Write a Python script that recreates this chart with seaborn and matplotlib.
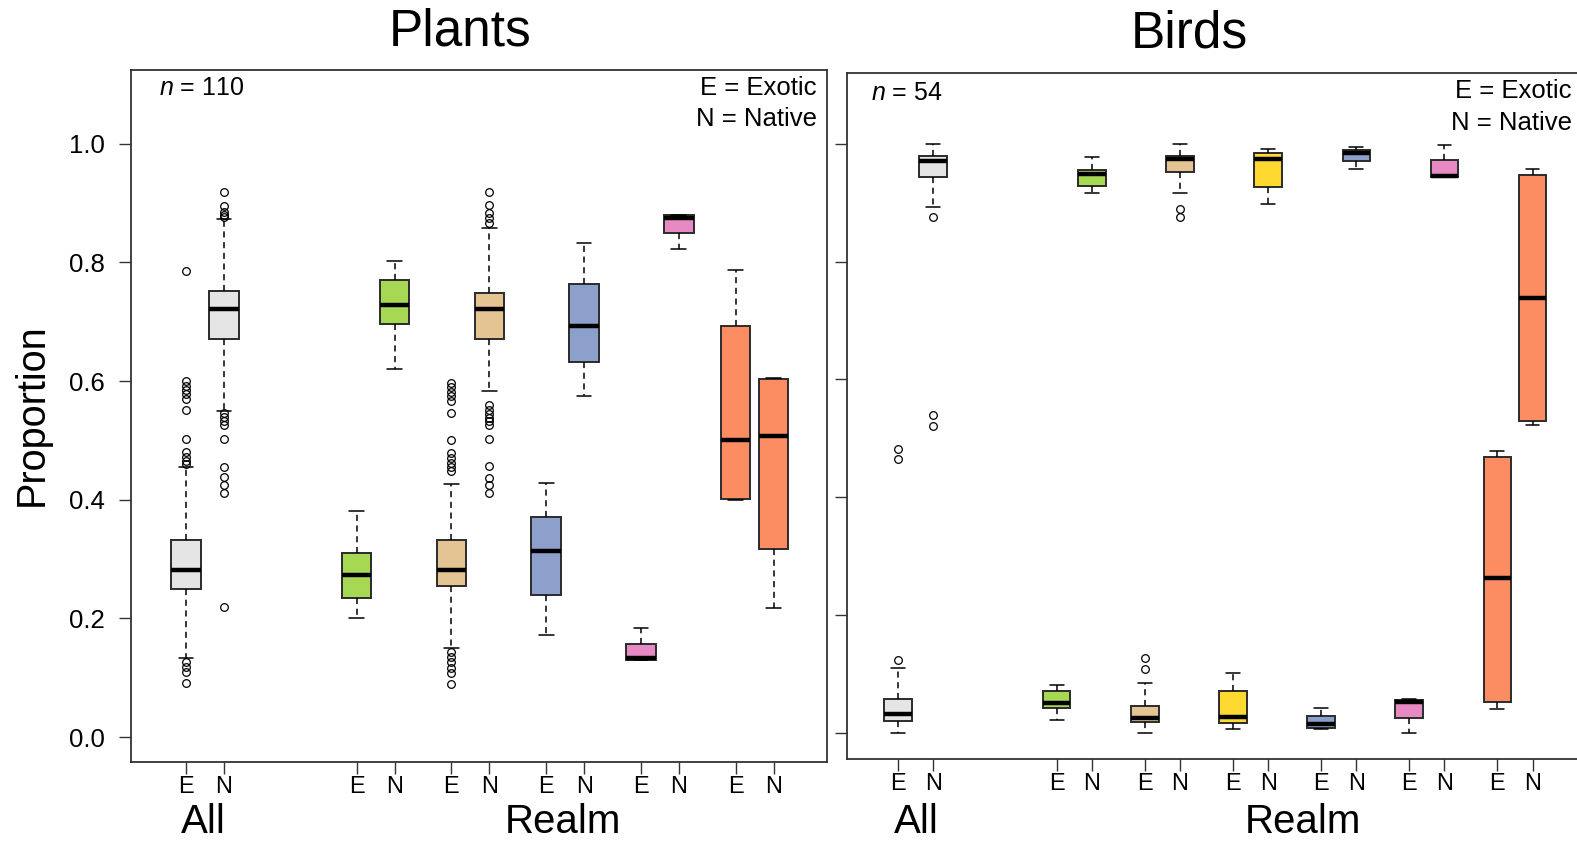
import matplotlib
matplotlib.use("Agg")
import matplotlib.pyplot as plt
import seaborn as sns

# Summary statistics (E, N pairs per group)
# order: All, then the realms
sns.set_style("ticks")
plt.rcParams["font.family"] = ["Liberation Sans", "DejaVu Sans"]
plt.rcParams["mathtext.fontset"] = "custom"
plt.rcParams["mathtext.it"] = "Liberation Sans:italic"
plt.rcParams["mathtext.rm"] = "Liberation Sans"
plt.rcParams["text.color"] = "black"

pal = sns.color_palette("Set2")
grey = "#e5e5e5"
plant_colors = [grey, pal[4], pal[6], pal[2], pal[3], pal[1]]
bird_colors = [grey, pal[4], pal[6], pal[5], pal[2], pal[3], pal[1]]

tick_labels = ["E", "N"]

plants_q1 = [0.250, 0.671, 0.235, 0.697, 0.255, 0.671, 0.240, 0.632, 0.130, 0.849, 0.402, 0.317]
plants_med = [0.282, 0.721, 0.274, 0.729, 0.282, 0.721, 0.313, 0.693, 0.133, 0.875, 0.500, 0.508]
plants_q3 = [0.332, 0.752, 0.310, 0.770, 0.332, 0.748, 0.371, 0.763, 0.157, 0.880, 0.693, 0.603]
plants_lo = [0.134, 0.550, 0.2015, 0.620, 0.150, 0.583, 0.173, 0.575, 0.130, 0.822, 0.399, 0.2185]
plants_hi = [0.455, 0.873, 0.381, 0.802, 0.427, 0.858, 0.429, 0.832, 0.184, 0.880, 0.788, 0.605]
plants_fliers = [
    [0.786, 0.600, 0.592, 0.585, 0.578, 0.570, 0.551, 0.502, 0.480, 0.472, 0.466, 0.460,
     0.127, 0.118, 0.110, 0.091],
    [0.918, 0.895, 0.885, 0.880, 0.877, 0.546, 0.540, 0.533, 0.526, 0.502, 0.456, 0.438,
     0.425, 0.412, 0.219],
    [], [],
    [0.597, 0.590, 0.582, 0.575, 0.566, 0.547, 0.500, 0.479, 0.470, 0.462, 0.455, 0.448,
     0.144, 0.135, 0.126, 0.117, 0.108, 0.090],
    [0.918, 0.897, 0.883, 0.875, 0.867, 0.560, 0.552, 0.545, 0.538, 0.532, 0.526, 0.502,
     0.457, 0.437, 0.425, 0.412],
    [], [], [], [], [], [],
]

birds_q1 = [0.019, 0.943, 0.0425, 0.928, 0.018, 0.953, 0.016, 0.926, 0.0075, 0.970, 0.0255, 0.943, 0.052, 0.530]
birds_med = [0.031, 0.971, 0.050, 0.948, 0.0255, 0.975, 0.027, 0.975, 0.015, 0.985, 0.052, 0.945, 0.262, 0.739]
birds_q3 = [0.057, 0.980, 0.071, 0.955, 0.046, 0.979, 0.071, 0.984, 0.028, 0.989, 0.0555, 0.972, 0.468, 0.947]
birds_lo = [0.000, 0.893, 0.021, 0.917, 0.000, 0.917, 0.006, 0.897, 0.007, 0.957, 0.000, 0.943, 0.040, 0.522]
birds_hi = [0.109, 0.999, 0.0815, 0.977, 0.084, 0.999, 0.101, 0.991, 0.0425, 0.994, 0.058, 0.998, 0.478, 0.957]
birds_fliers = [
    [0.123, 0.464, 0.481],
    [0.876, 0.539, 0.520],
    [], [],
    [0.126, 0.108],
    [0.889, 0.875],
    [], [], [], [], [], [], [], [],
]


def positions(n_realms):
    pos = [1, 2]
    for i in range(n_realms):
        pos += [5.5 + 2.5 * i, 6.5 + 2.5 * i]
    return pos


def draw_panel(ax, q1, med, q3, lo, hi, fliers, colors):
    stats = []
    for i in range(len(med)):
        stats.append(dict(q1=q1[i], med=med[i], q3=q3[i], whislo=lo[i],
                          whishi=hi[i], fliers=fliers[i]))
    pos = positions(len(colors) - 1)
    res = ax.bxp(stats, positions=pos, widths=0.78, capwidths=0.39,
                 patch_artist=True, showfliers=True,
                 boxprops=dict(edgecolor="#2b2b2b", linewidth=1.4),
                 whiskerprops=dict(color="black", linewidth=1.1, linestyle=(0, (4, 3))),
                 capprops=dict(color="black", linewidth=1.1),
                 medianprops=dict(color="black", linewidth=3.2, solid_capstyle="butt"),
                 flierprops=dict(marker="o", markerfacecolor="none",
                                 markeredgecolor="black", markersize=5.5,
                                 markeredgewidth=0.9))
    for i, box in enumerate(res["boxes"]):
        box.set_facecolor(colors[i // 2])
    ax.set_xticks(pos)
    ax.set_xticklabels(tick_labels * (len(pos) // 2), fontsize=17)
    ax.set_yticks([0.0, 0.2, 0.4, 0.6, 0.8, 1.0])
    for s in ax.spines.values():
        s.set_visible(True)
        s.set_color("#333333")
        s.set_linewidth(1.3)
    ax.tick_params(axis="both", length=8.6, width=1.0, color="#333333",
                   direction="out", labelcolor="black")
    ax.tick_params(axis="x", pad=1.5)
    ax.tick_params(axis="y", pad=10, labelsize=18.5)
    ax.grid(False)


W, H = 1577, 844
fig = plt.figure(figsize=(W / 100, H / 100), dpi=100)

ax1 = fig.add_axes([130.7 / W, 1 - 761.5 / H, 696.0 / W, (761.5 - 70.4) / H])
draw_panel(ax1, plants_q1, plants_med, plants_q3, plants_lo, plants_hi,
           plants_fliers, plant_colors)
ax1.set_xlim(-0.459, 17.9)
ax1.set_ylim(-0.041, 1.1237)
ax1.set_yticklabels(["0.0", "0.2", "0.4", "0.6", "0.8", "1.0"])

ax2 = fig.add_axes([846.8 / W, 1 - 759.0 / H, 736.2 / W, (759.0 - 73.4) / H])
draw_panel(ax2, birds_q1, birds_med, birds_q3, birds_lo, birds_hi,
           birds_fliers, bird_colors)
ax2.set_xlim(-0.452, 20.43)
ax2.set_ylim(-0.0447, 1.1196)
ax2.set_yticklabels([])

# panel annotations
ax1.text(0.040, 0.974, r"$\it{n}$ = 110", transform=ax1.transAxes,
         fontsize=18, ha="left", va="center")
ax1.text(0.9855, 0.975, "E = Exotic", transform=ax1.transAxes,
         fontsize=18.5, ha="right", va="center")
ax1.text(0.9855, 0.930, "N = Native", transform=ax1.transAxes,
         fontsize=18.5, ha="right", va="center")
ax2.text(0.033, 0.972, r"$\it{n}$ = 54", transform=ax2.transAxes,
         fontsize=18, ha="left", va="center")
ax2.text(0.985, 0.974, "E = Exotic", transform=ax2.transAxes,
         fontsize=18.5, ha="right", va="center")
ax2.text(0.985, 0.927, "N = Native", transform=ax2.transAxes,
         fontsize=18.5, ha="right", va="center")

# titles and group labels
fig.text(460.6 / W, 1 - 31.5 / H, "Plants", fontsize=37, ha="center", va="center")
fig.text(1189.7 / W, 1 - 33.5 / H, "Birds", fontsize=37, ha="center", va="center")
fig.text(203 / W, 1 - 822 / H, "All", fontsize=29, ha="center", va="center")
fig.text(563 / W, 1 - 822 / H, "Realm", fontsize=29, ha="center", va="center")
fig.text(916 / W, 1 - 822 / H, "All", fontsize=29, ha="center", va="center")
fig.text(1303 / W, 1 - 822 / H, "Realm", fontsize=29, ha="center", va="center")
fig.text(32 / W, 1 - 415 / H, "Proportion", fontsize=28.5, rotation=90,
         ha="center", va="center")

fig.savefig("out.png", dpi=100)
